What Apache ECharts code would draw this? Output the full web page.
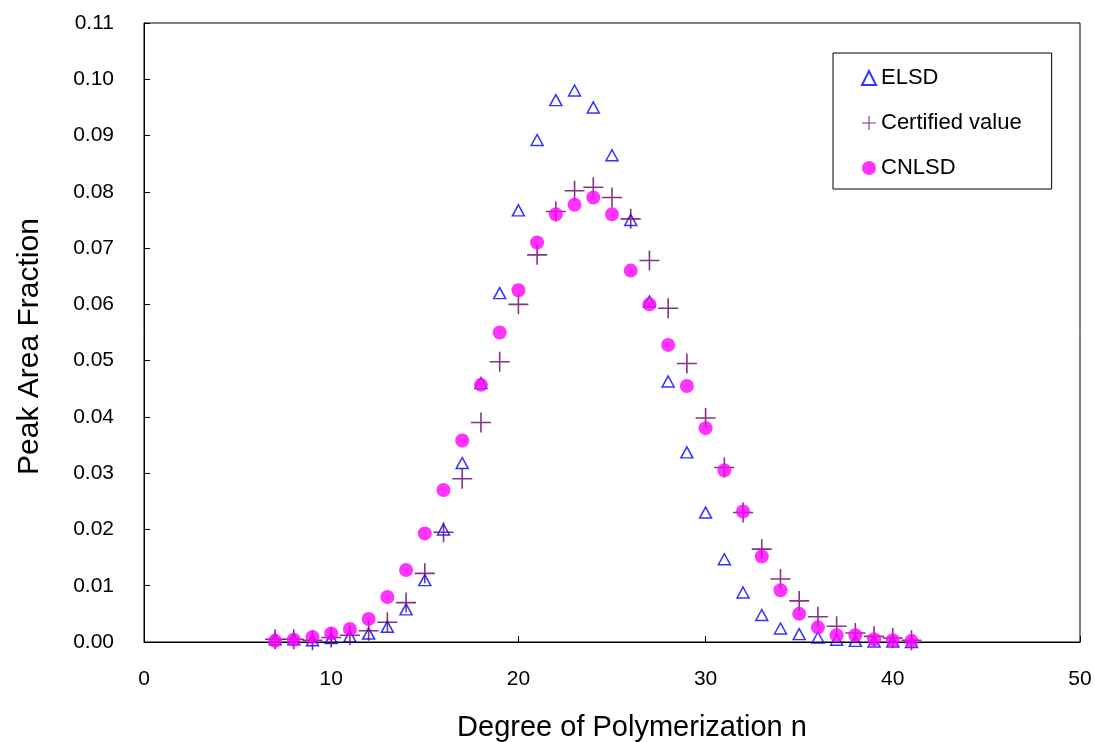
<!DOCTYPE html>
<html>
<head>
<meta charset="utf-8">
<title>Peak Area Fraction</title>
<script src="https://cdn.jsdelivr.net/npm/echarts@6/dist/echarts.min.js"></script>
<style>
  html, body { margin: 0; padding: 0; background: #fff; }
  #chart { width: 1095px; height: 742px; }
</style>
</head>
<body>
<div id="chart"></div>
<script>
// degree of polymerization n
const degrees = [7, 8, 9, 10, 11, 12, 13, 14, 15, 16, 17, 18, 19, 20, 21, 22, 23, 24,
  25, 26, 27, 28, 29, 30, 31, 32, 33, 34, 35, 36, 37, 38, 39, 40, 41];

// peak area fractions
const elsd = [0.0005, 0.0005, 0.0003, 0.0007, 0.0010, 0.0015, 0.0027, 0.0058, 0.0110, 0.0200,
  0.0318, 0.0460, 0.0620, 0.0767, 0.0892, 0.0963, 0.0980, 0.0950, 0.0865, 0.0750,
  0.0605, 0.0463, 0.0337, 0.0230, 0.0147, 0.0088, 0.0048, 0.0024, 0.0014, 0.0008,
  0.0004, 0.0002, 0.0001, 0.0001, 0.0000];
const certified = [0.0005, 0.0005, 0.0003, 0.0008, 0.0012, 0.0020, 0.0035, 0.0070, 0.0122, 0.0195,
  0.0290, 0.0390, 0.0498, 0.0600, 0.0688, 0.0765, 0.0802, 0.0808, 0.0790, 0.0752,
  0.0678, 0.0593, 0.0495, 0.0398, 0.0310, 0.0230, 0.0165, 0.0112, 0.0073, 0.0045,
  0.0028, 0.0016, 0.0010, 0.0007, 0.0003];
const cnlsd = [0.0002, 0.0004, 0.0009, 0.0015, 0.0023, 0.0041, 0.0080, 0.0128, 0.0193, 0.0270,
  0.0358, 0.0457, 0.0550, 0.0625, 0.0710, 0.0760, 0.0777, 0.0790, 0.0760, 0.0660,
  0.0600, 0.0528, 0.0455, 0.0380, 0.0305, 0.0232, 0.0152, 0.0092, 0.0050, 0.0026,
  0.0012, 0.0012, 0.0005, 0.0003, 0.0002];

const font = 'Liberation Sans, Arial, sans-serif';
const pair = (ys) => degrees.map((n, i) => [n, ys[i]]);

// thin plus sign, filled
const plusPath = 'path://M9.2,0H10.8V9.2H20V10.8H10.8V20H9.2V10.8H0V9.2H9.2Z';

const chart = echarts.init(document.getElementById('chart'));

chart.setOption({
  backgroundColor: '#fff',
  animation: false,
  grid: {
    left: 144, right: 15, top: 23, bottom: 100,
    outerBoundsMode: 'none',
    show: true, borderColor: '#000', borderWidth: 1
  },
  legend: {
    orient: 'vertical',
    left: 833, top: 53,
    padding: [14, 30, 10, 28],
    itemGap: 23,
    itemWidth: 14, itemHeight: 14,
    backgroundColor: '#fff',
    borderColor: '#000', borderWidth: 1,
    textStyle: { fontFamily: font, fontSize: 22, color: '#000' },
    data: ['ELSD', 'Certified value', 'CNLSD']
  },
  xAxis: {
    type: 'value',
    min: 0, max: 50, interval: 10,
    name: 'Degree of Polymerization n',
    nameLocation: 'middle',
    nameGap: 71,
    nameTextStyle: { fontFamily: font, fontSize: 29, color: '#000', padding: [0, 0, 0, 40] },
    axisLine: { show: true, lineStyle: { color: '#000', width: 1 } },
    axisTick: { show: true, inside: true, length: 6, lineStyle: { color: '#000' } },
    axisLabel: { fontFamily: font, fontSize: 21, color: '#000', margin: 27 },
    splitLine: { show: false }
  },
  yAxis: {
    type: 'value',
    min: 0, max: 0.11, interval: 0.01,
    name: 'Peak Area Fraction',
    nameLocation: 'middle',
    nameGap: 99,
    nameTextStyle: { fontFamily: font, fontSize: 30, color: '#000', padding: [0, 28, 0, 0] },
    axisLine: { show: true, lineStyle: { color: '#000', width: 1 } },
    axisTick: { show: true, inside: true, length: 6, lineStyle: { color: '#000' } },
    axisLabel: {
      fontFamily: font, fontSize: 21, color: '#000', margin: 30,
      formatter: (v) => v.toFixed(2)
    },
    splitLine: { show: false }
  },
  series: [
    {
      name: 'ELSD',
      type: 'scatter',
      symbol: 'triangle',
      symbolSize: [12, 11],
      itemStyle: { color: 'rgba(0,0,0,0)', borderColor: '#0000ff', borderWidth: 1.5 },
      data: pair(elsd)
    },
    {
      name: 'Certified value',
      type: 'scatter',
      symbol: plusPath,
      symbolSize: 20,
      itemStyle: { color: '#660066' },
      data: pair(certified)
    },
    {
      name: 'CNLSD',
      type: 'scatter',
      symbol: 'circle',
      symbolSize: 14,
      itemStyle: { color: '#ff00ff' },
      data: pair(cnlsd)
    }
  ]
});
</script>
</body>
</html>
